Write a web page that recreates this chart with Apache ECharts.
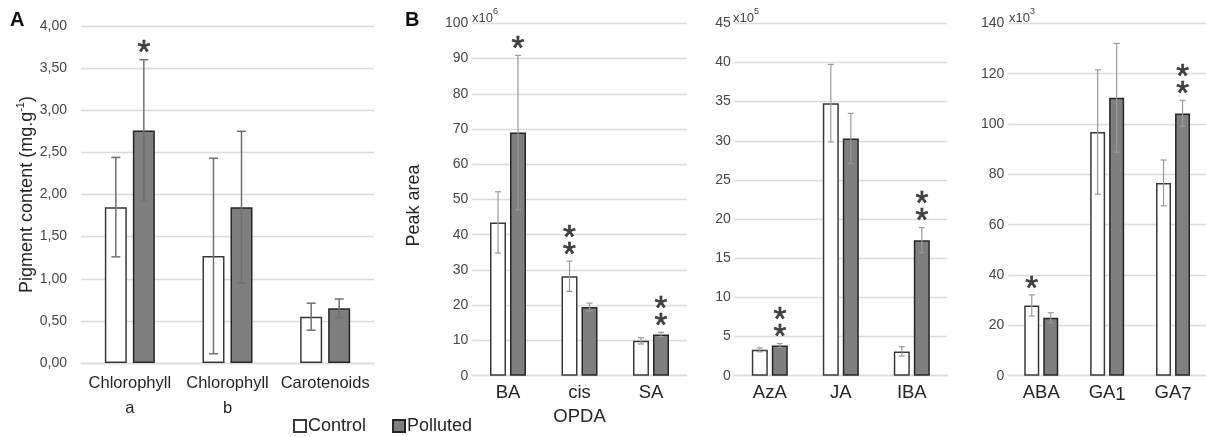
<!DOCTYPE html>
<html>
<head>
<meta charset="utf-8">
<script src="https://cdn.jsdelivr.net/npm/echarts@6/dist/echarts.min.js"></script>
<style>
  html, body { margin: 0; padding: 0; background: #fff; }
  #chart { width: 1206px; height: 437px; }
</style>
</head>
<body>
<div id="chart"></div>
<script>
// ---- Panel A: pigment content (mg/g) ----
const catsA = ['Chlorophyll\na', 'Chlorophyll\nb', 'Carotenoids'];
const controlA = [1.85, 1.27, 0.55];
const controlA_sd = [0.59, 1.16, 0.16];
const pollutedA = [2.76, 1.85, 0.65];
const pollutedA_sd = [0.84, 0.90, 0.11];
const starsA_control = [0, 0, 0];
const starsA_polluted = [1, 0, 0];
const ticksA = [0, 4, 0.5];

// ---- Panel B1: peak area x10^6 ----
const catsB1 = ['BA', 'cis\nOPDA', 'SA'];
const controlB1 = [43.5, 28.2, 9.9];
const controlB1_sd = [8.7, 4.3, 0.9];
const pollutedB1 = [69.0, 19.5, 11.7];
const pollutedB1_sd = [21.9, 1.1, 0.6];
const starsB1_control = [0, 2, 0];
const starsB1_polluted = [1, 0, 2];
const ticksB1 = [0, 100, 10];

// ---- Panel B2: peak area x10^5 ----
const catsB2 = ['AzA', 'JA', 'IBA'];
const controlB2 = [3.3, 34.8, 3.1];
const controlB2_sd = [0.25, 4.95, 0.6];
const pollutedB2 = [3.85, 30.3, 17.3];
const pollutedB2_sd = [0.25, 3.2, 1.6];
const starsB2_control = [0, 0, 0];
const starsB2_polluted = [2, 0, 2];
const ticksB2 = [0, 45, 5];

// ---- Panel B3: peak area x10^3 ----
const catsB3 = ['ABA', 'GA1', 'GA7'];
const controlB3 = [27.9, 96.8, 76.6];
const controlB3_sd = [4.2, 24.7, 9.1];
const pollutedB3 = [23.0, 110.4, 104.2];
const pollutedB3_sd = [2.0, 21.6, 5.2];
const starsB3_control = [1, 0, 0];
const starsB3_polluted = [0, 0, 2];
const ticksB3 = [0, 140, 20];

const FONT = '"Liberation Sans", Arial, sans-serif';
const GRID_COLOR = '#dcdcdc';

// Layout and bar geometry for each panel
const panels = [
  { grid: { left: 81, top: 26, width: 293, height: 337 }, barW: 22, gap: 6, cap: 9,
    errColor: '#707070', errW: 1.5, catFont: 16.5, catLH: 25, catMargin: 7.5, tickMargin: 14,
    cats: catsA, c: controlA, csd: controlA_sd, p: pollutedA, psd: pollutedA_sd,
    sc: starsA_control, sp: starsA_polluted, ticks: ticksA,
    fmt: v => v.toFixed(2).replace('.', ',') },
  { grid: { left: 472.25, top: 23.3, width: 214.5, height: 352.4 }, barW: 16, gap: 4, cap: 6,
    errColor: '#9a9a9a', errW: 1.2, catFont: 18.5, catLH: 23.5, catMargin: 5.5, tickMargin: 4,
    cats: catsB1, c: controlB1, csd: controlB1_sd, p: pollutedB1, psd: pollutedB1_sd,
    sc: starsB1_control, sp: starsB1_polluted, ticks: ticksB1, fmt: v => String(v) },
  { grid: { left: 734.3, top: 23.3, width: 213, height: 352.4 }, barW: 16, gap: 4, cap: 6,
    errColor: '#9a9a9a', errW: 1.2, catFont: 18.5, catLH: 23.5, catMargin: 5.5, tickMargin: 3.5,
    cats: catsB2, c: controlB2, csd: controlB2_sd, p: pollutedB2, psd: pollutedB2_sd,
    sc: starsB2_control, sp: starsB2_polluted, ticks: ticksB2, fmt: v => String(v) },
  { grid: { left: 1008.3, top: 23.3, width: 199.7, height: 352.4 }, barW: 15, gap: 4, cap: 6,
    errColor: '#9a9a9a', errW: 1.2, catFont: 18.5, catLH: 23.5, catMargin: 5.5, tickMargin: 4,
    cats: catsB3, c: controlB3, csd: controlB3_sd, p: pollutedB3, psd: pollutedB3_sd,
    sc: starsB3_control, sp: starsB3_polluted, ticks: ticksB3, fmt: v => String(v) }
];

const grids = [], xAxes = [], yAxes = [], series = [];

panels.forEach((pn, i) => {
  grids.push(Object.assign({ containLabel: false }, pn.grid));

  xAxes.push({
    type: 'category', gridIndex: i, data: pn.cats,
    axisLine: { show: true, lineStyle: { color: GRID_COLOR, width: 1.3 } },
    axisTick: { show: false },
    axisLabel: {
      margin: pn.catMargin, interval: 0, color: '#262626',
      fontFamily: FONT, fontSize: pn.catFont, lineHeight: pn.catLH,
      formatter: v => {
        const m = /^GA(\d)$/.exec(v);
        return m ? '{n|GA}{s|' + m[1] + '}' : v;
      },
      rich: {
        n: { fontFamily: FONT, fontSize: pn.catFont, lineHeight: pn.catLH, color: '#262626' },
        s: { fontFamily: FONT, fontSize: pn.catFont, lineHeight: 13, verticalAlign: 'bottom', color: '#262626' }
      }
    }
  });

  const y = {
    type: 'value', gridIndex: i,
    min: pn.ticks[0], max: pn.ticks[1], interval: pn.ticks[2],
    axisLine: { show: false }, axisTick: { show: false },
    splitLine: { lineStyle: { color: GRID_COLOR, width: 1.3 } },
    axisLabel: { margin: pn.tickMargin, color: '#474747', fontFamily: FONT, fontSize: 14, formatter: pn.fmt }
  };
  if (i === 0) {
    y.name = '{a|Pigment content (mg.g}{s|-1}{a|)}';
    y.nameLocation = 'middle';
    y.nameRotate = 90;
    y.nameGap = 42;
    y.nameTextStyle = {
      rich: {
        a: { fontFamily: FONT, fontSize: 18, lineHeight: 22, color: '#262626' },
        s: { fontFamily: FONT, fontSize: 11, lineHeight: 12, verticalAlign: 'top', color: '#262626' }
      }
    };
  } else if (i === 1) {
    y.name = 'Peak area';
    y.nameLocation = 'middle';
    y.nameRotate = 90;
    y.nameGap = 49;
    y.nameTextStyle = { fontFamily: FONT, fontSize: 18, color: '#262626', padding: [0, 12, 0, 0] };
  }
  yAxes.push(y);

  series.push({
    name: 'Control', type: 'bar', xAxisIndex: i, yAxisIndex: i,
    data: pn.c, barWidth: pn.barW, barGap: (pn.gap / pn.barW * 100) + '%',
    itemStyle: { color: '#ffffff', borderColor: '#3a3a3a', borderWidth: 1.5 },
    silent: true, z: 2
  });
  series.push({
    name: 'Polluted', type: 'bar', xAxisIndex: i, yAxisIndex: i,
    data: pn.p, barWidth: pn.barW, barGap: (pn.gap / pn.barW * 100) + '%',
    itemStyle: { color: '#7f7f7f', borderColor: '#262626', borderWidth: 1.5 },
    silent: true, z: 2
  });

  // error bars (mean ± sd) with significance asterisks above them
  const errData = [];
  pn.cats.forEach((_, k) => {
    errData.push([k, pn.c[k] - pn.csd[k], pn.c[k] + pn.csd[k], 0, pn.sc[k]]);
    errData.push([k, pn.p[k] - pn.psd[k], pn.p[k] + pn.psd[k], 1, pn.sp[k]]);
  });
  series.push({
    type: 'custom', xAxisIndex: i, yAxisIndex: i, z: 5, silent: true,
    data: errData,
    encode: { x: 0, y: [1, 2] },
    renderItem: (params, api) => {
      const k = api.value(0), lo = api.value(1), hi = api.value(2);
      const side = api.value(3), n = api.value(4);
      const top = api.coord([k, hi]);
      const bot = api.coord([k, lo]);
      const x = top[0] + (side ? 1 : -1) * (pn.barW + pn.gap) / 2;
      const ls = { stroke: pn.errColor, lineWidth: pn.errW };
      const h = pn.cap / 2;
      const children = [
        { type: 'line', shape: { x1: x, y1: top[1], x2: x, y2: bot[1] }, style: ls },
        { type: 'line', shape: { x1: x - h, y1: top[1], x2: x + h, y2: top[1] }, style: ls },
        { type: 'line', shape: { x1: x - h, y1: bot[1], x2: x + h, y2: bot[1] }, style: ls }
      ];
      for (let s = 0; s < n; s++) {
        children.push({
          type: 'text',
          style: {
            x: x, y: top[1] - 13 - s * 17 + 7.6, text: '*',
            fontFamily: FONT, fontSize: 33, fill: '#404040',
            stroke: '#404040', lineWidth: 0.7,
            align: 'center', verticalAlign: 'middle'
          }
        });
      }
      return { type: 'group', children };
    }
  });
});

const expLabel = (left, e) => ({
  type: 'text', left: left, top: 7,
  style: {
    text: '{b|x10}{s|' + e + '}',
    rich: {
      b: { fontFamily: FONT, fontSize: 13, lineHeight: 18, fill: '#404040', verticalAlign: 'bottom' },
      s: { fontFamily: FONT, fontSize: 9, lineHeight: 18, fill: '#404040', verticalAlign: 'top' }
    }
  }
});

const chart = echarts.init(document.getElementById('chart'), null, { renderer: 'canvas' });
chart.setOption({
  animation: false,
  backgroundColor: '#ffffff',
  grid: grids,
  xAxis: xAxes,
  yAxis: yAxes,
  series: series,
  legend: {
    data: ['Control', 'Polluted'],
    left: 288, top: 412,
    icon: 'rect', itemWidth: 12, itemHeight: 12, itemGap: 26,
    itemStyle: { borderWidth: 2 },
    textStyle: { fontFamily: FONT, fontSize: 18, color: '#262626', padding: [0, 0, 0, -3] },
    selectedMode: false
  },
  graphic: [
    { type: 'text', left: 10, top: 10, style: { text: 'A', fontFamily: FONT, fontSize: 20, fontWeight: 'bold', fill: '#111' } },
    { type: 'text', left: 405, top: 10, style: { text: 'B', fontFamily: FONT, fontSize: 20, fontWeight: 'bold', fill: '#111' } },
    expLabel(472, 6),
    expLabel(733, 5),
    expLabel(1009, 3)
  ]
});
</script>
</body>
</html>
